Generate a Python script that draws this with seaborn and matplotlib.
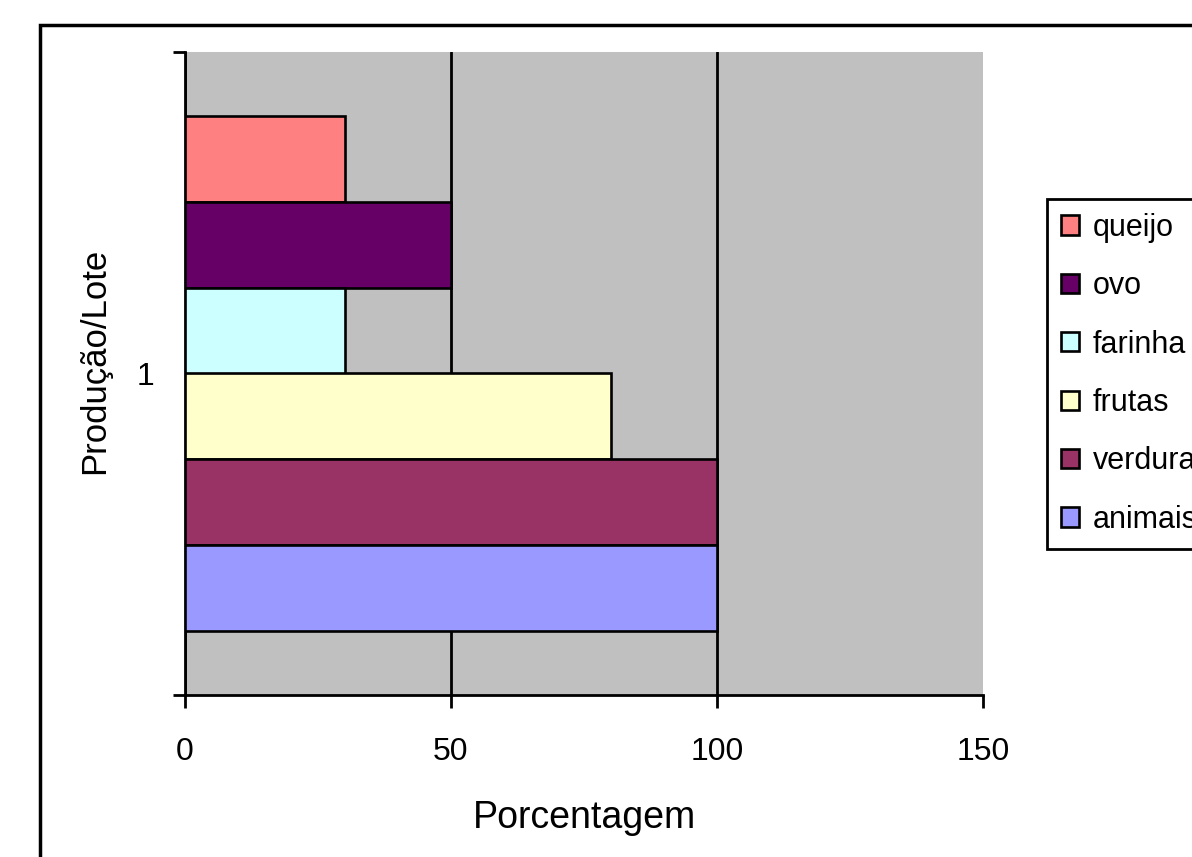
import matplotlib
matplotlib.use("Agg")
import matplotlib.pyplot as plt
from matplotlib.patches import Rectangle
import seaborn as sns
import pandas as pd

# Production per lot, percentage by item
lotes = ["1"] * 6
itens = ["queijo", "ovo", "farinha", "frutas", "verduras", "animais"]
valores = [30, 50, 30, 80, 100, 100]
cores = ["#FF8080", "#660066", "#CCFFFF", "#FFFFCC", "#993366", "#9999FF"]
x_ticks = [0, 50, 100, 150]

sns.set_theme(style="white")
plt.rcParams["font.family"] = ["Liberation Sans", "DejaVu Sans"]
plt.rcParams["text.color"] = "black"
plt.rcParams["axes.labelcolor"] = "black"
plt.rcParams["xtick.color"] = "black"
plt.rcParams["ytick.color"] = "black"

df = pd.DataFrame({"lote": lotes, "item": itens, "valor": valores})

W, H = 1192, 857
fig = plt.figure(figsize=(W / 100, H / 100), dpi=100)
fig.patch.set_facecolor("white")
ax = fig.add_axes([185 / W, 1 - 695 / H, (983 - 185) / W, (695 - 52) / H])
ax.set_facecolor("#C0C0C0")

sns.barplot(data=df, x="valor", y="lote", hue="item", hue_order=itens,
            orient="h", palette=cores, width=0.8, saturation=1,
            edgecolor="black", linewidth=1.9, ax=ax, zorder=3)

ax.set_xlim(0, 150)
ax.set_ylim(0.5, -0.5)
ax.set_xticks(x_ticks)
ax.set_xticklabels([str(t) for t in x_ticks])

# vertical gridlines behind the bars
ax.set_axisbelow(True)
ax.xaxis.grid(True, color="black", linewidth=2)
ax.yaxis.grid(False)
ax.get_xgridlines()[-1].set_visible(False)

for s in ["top", "right"]:
    ax.spines[s].set_visible(False)
for s in ["left", "bottom"]:
    ax.spines[s].set_color("black")
    ax.spines[s].set_linewidth(2)

ax.tick_params(axis="x", which="major", direction="out", length=9, width=2,
               color="black", labelcolor="black", labelsize=23, pad=21,
               bottom=True)
ax.set_yticks([0])
ax.set_yticklabels(["1"])
ax.set_yticks([-0.5, 0.5], minor=True)
ax.tick_params(axis="y", which="major", length=0, labelsize=23, pad=22,
               labelcolor="black", left=True)
ax.tick_params(axis="y", which="minor", direction="out", length=9, width=2,
               color="black", left=True)

ax.set_xlabel("Porcentagem", fontsize=27, color="black")
ax.set_ylabel("Produção/Lote", fontsize=25, color="black")
ax.xaxis.set_label_coords(0.50, -0.163)
ax.yaxis.set_label_coords(-0.092, 0.52)

handles, labels = ax.get_legend_handles_labels()
if ax.legend_ is not None:
    ax.legend_.remove()
leg = fig.legend(handles, labels, loc="upper left",
                 bbox_to_anchor=(1047 / W, 1 - 199 / H),
                 fontsize=22, frameon=True, fancybox=False, shadow=False,
                 edgecolor="black", facecolor="white", framealpha=1,
                 handlelength=0.59, handleheight=0.59, handletextpad=0.46,
                 labelspacing=0.93, borderpad=0.45, borderaxespad=0,
                 labelcolor="black")
leg.get_frame().set_linewidth(2)

# outer chart frame
fig.add_artist(Rectangle((40 / W, -0.1), 1.2, (1 - 25 / H) + 0.1,
                         transform=fig.transFigure, fill=False,
                         edgecolor="black", linewidth=2.5))

fig.savefig("out.png", dpi=100)
